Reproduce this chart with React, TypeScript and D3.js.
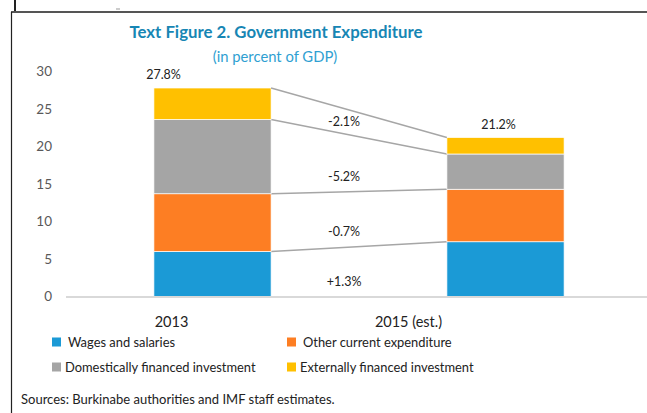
import * as d3 from 'd3'

const years = ['2013', '2015 (est.)']
const seriesNames = ['Wages and salaries', 'Other current expenditure', 'Domestically financed investment', 'Externally financed investment']
const wages = [6.0, 7.3]
const otherCurrent = [7.7, 7.0]
const domesticInv = [9.9, 4.7]
const externalInv = [4.2, 2.2]
const totalLabels = ['27.8%', '21.2%']
const changeLabels = ['+1.3%', '-0.7%', '-5.2%', '-2.1%']
const yTicks = [0, 5, 10, 15, 20, 25, 30]

const colors = ['#1b9ad6', '#fd7e23', '#a5a5a5', '#ffc000']
const FONT = 'Lato, "Noto Sans", sans-serif'

export default function App() {
  const width = 647
  const height = 413
  const margin = { left: 66, right: -5, top: 71.5, bottom: 116.5 }

  const x = d3.scaleBand().domain(years).range([margin.left, width - margin.right]).paddingInner(0.6).paddingOuter(0.3)
  const y = d3.scaleLinear().domain([0, 30]).range([height - margin.bottom, margin.top])

  const table = years.map((yr, i) => ({
    year: yr,
    wages: wages[i],
    other: otherCurrent[i],
    domestic: domesticInv[i],
    external: externalInv[i],
  }))
  const keys = ['wages', 'other', 'domestic', 'external']
  const stacked = d3.stack<any>().keys(keys)(table)

  const bw = x.bandwidth()
  const x0 = (x(years[0]) ?? 0) + bw
  const x1 = x(years[1]) ?? 0
  const gap = x1 - x0

  // little nudges to match where the original text boxes sit
  const totalDx = [-49, -7]
  const catDx = [-41, -97]

  return (
    <svg width={width} height={height} style={{ position: 'absolute', left: 0, top: 0, background: '#fff' }} fontFamily={FONT}>
      {/* frame */}
      <line x1={15} x2={15} y1={0} y2={11} stroke="#222" strokeWidth={2} />
      <line x1={11} x2={width} y1={12} y2={12} stroke="#555" strokeWidth={2} />
      <line x1={11.5} x2={11.5} y1={12} y2={height} stroke="#222" strokeWidth={1.2} />
      <line x1={116} x2={120} y1={9} y2={9} stroke="#999" strokeWidth={1} />

      <text x={276} y={38} textAnchor="middle" fontSize={16.8} fontWeight="bold" fill="#1786b4">Text Figure 2. Government Expenditure</text>
      <text x={275} y={62} textAnchor="middle" fontSize={14.8} fill="#2f9fd2">(in percent of GDP)</text>

      {yTicks.map(t => (
        <text key={t} x={52} y={y(t)} dy="0.35em" textAnchor="end" fontSize={13.5} fill="#595959">{t}</text>
      ))}

      {stacked.map((s, si) => (
        <g key={s.key}>
          {s.map((d, i) => (
            <rect key={i} x={x(years[i])} y={y(d[1])} width={bw} height={y(d[0]) - y(d[1])}
              fill={colors[si]} stroke="#fff" strokeWidth={0.7} />
          ))}
          <line x1={x0} x2={x1} y1={y(s[0][1])} y2={y(s[1][1])} stroke="#a6a6a6" strokeWidth={1.3} />
          <text x={x0 + gap * 0.415} y={y((s[0][0] + s[1][0]) / 2) - 15} dy="0.35em" textAnchor="middle" fontSize={12.5} fill="#222">
            {changeLabels[si]}
          </text>
        </g>
      ))}

      <line x1={margin.left} x2={width} y1={y(0) + 0.5} y2={y(0) + 0.5} stroke="#d9d9d9" strokeWidth={2} />

      {years.map((yr, i) => {
        const top = stacked[stacked.length - 1][i][1]
        return (
          <text key={yr} x={(x(yr) ?? 0) + bw / 2 + totalDx[i]} y={y(top) - 13} dy="0.35em" textAnchor="middle" fontSize={12.5} fill="#222">
            {totalLabels[i]}
          </text>
        )
      })}

      {years.map((yr, i) => (
        <text key={yr} x={(x(yr) ?? 0) + bw / 2 + catDx[i]} y={322} dy="0.35em" textAnchor="middle" fontSize={14.5} fill="#222">{yr}</text>
      ))}

      {seriesNames.map((name, i) => {
        const col = i % 2
        const row = Math.floor(i / 2)
        const lx = col === 0 ? 52 : 287
        const ly = row === 0 ? 342 : 367
        const tx = row === 0 ? 16 : 13
        return (
          <g key={name}>
            <rect x={lx} y={ly - 4.5} width={9} height={9} fill={colors[i]} />
            <text x={lx + tx} y={ly} dy="0.35em" fontSize={12.9} fill="#222">{name}</text>
          </g>
        )
      })}

      <text x={21} y={399} dy="0.35em" fontSize={13} fill="#222">Sources: Burkinabe authorities and IMF staff estimates.</text>
    </svg>
  )
}
